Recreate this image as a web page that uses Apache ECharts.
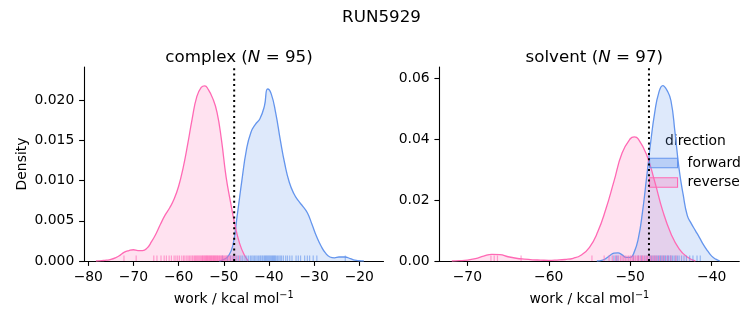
<!DOCTYPE html>
<html><head><meta charset="utf-8">
<script src="https://cdn.jsdelivr.net/npm/echarts@6/dist/echarts.min.js"></script>
<style>html,body{margin:0;padding:0;background:#fff}#c{width:753px;height:325px}</style>
</head><body><div id="c"></div>
<script>
// ---- data ----
const suptitle = 'RUN5929';
const panelNames = ['complex', 'solvent'];
const panelN = [95, 97];
const hueNames = ['forward', 'reverse'];
const dgLine = [-47.7, -47.7];

const complexXTicks = [-80, -70, -60, -50, -40, -30, -20];
const complexYTicks = [0, 0.005, 0.010, 0.015, 0.020];
const solventXTicks = [-70, -60, -50, -40];
const solventYTicks = [0, 0.02, 0.04, 0.06];

// KDE curves (work, density)
const complexFwdWork    = [-51, -50, -49, -48, -47, -46, -45, -44, -43, -42, -41, -40.3, -39.5, -38.5, -37.5, -36.5, -35.5, -34.5, -33.5, -32.5, -31.5, -30.5, -29.5, -28.5, -27.5, -26.5, -25.5, -24.5, -23.2, -22, -21, -20, -19];
const complexFwdDensity = [0, 0.0002, 0.0006, 0.0019, 0.0058, 0.0100, 0.0138, 0.0160, 0.0170, 0.0177, 0.0193, 0.0214, 0.0208, 0.0184, 0.0151, 0.0121, 0.0098, 0.0084, 0.0075, 0.0068, 0.0060, 0.0046, 0.0031, 0.0019, 0.0010, 0.0005, 0.0004, 0.0005, 0.0005, 0.0003, 0.0001, 0.00003, 0];
const complexRevWork    = [-78.3, -77, -76, -75, -74, -73, -72, -71, -70, -69, -68, -67, -66, -65, -64, -63, -62, -61, -60, -59, -58, -57, -56, -55, -54.2, -53.5, -52.5, -51.5, -50.5, -49.5, -48.5, -47.5, -46.5, -45.5, -44.6];
const complexRevDensity = [0, 0.00005, 0.0001, 0.0002, 0.0004, 0.0007, 0.0011, 0.0013, 0.0014, 0.0013, 0.0013, 0.0016, 0.0024, 0.0034, 0.0046, 0.0057, 0.0066, 0.0077, 0.0093, 0.0116, 0.0145, 0.0177, 0.0204, 0.0216, 0.0218, 0.0214, 0.0203, 0.0185, 0.0150, 0.0105, 0.0073, 0.0044, 0.0022, 0.0008, 0];
const solventFwdWork    = [-54.1, -53.5, -53, -52.5, -52, -51.5, -51, -50.5, -50, -49.5, -49, -48.5, -48, -47.5, -47, -46.5, -46, -45.5, -45, -44.5, -44, -43.5, -43, -42.5, -42, -41.5, -41, -40.5, -40, -39.5, -39];
const solventFwdDensity = [0, 0.0002, 0.0008, 0.0018, 0.0026, 0.0027, 0.0020, 0.0012, 0.0012, 0.0030, 0.0075, 0.0160, 0.0272, 0.0388, 0.0487, 0.0553, 0.0577, 0.0562, 0.0527, 0.0422, 0.0302, 0.0218, 0.0150, 0.0123, 0.0100, 0.0077, 0.0053, 0.0033, 0.0016, 0.0006, 0];
const solventRevWork    = [-71.9, -71, -70, -69, -68, -67, -66, -65, -64, -63, -62, -61, -60, -59, -58, -57, -56, -55, -54, -53, -52, -51, -50, -49.5, -49, -48, -47, -46, -45, -44, -43, -42];
const solventRevDensity = [0, 0.0001, 0.0003, 0.0008, 0.0016, 0.0022, 0.0021, 0.0014, 0.0009, 0.0006, 0.0004, 0.0003, 0.0002, 0.0003, 0.0005, 0.0009, 0.0020, 0.0045, 0.0095, 0.0170, 0.0262, 0.0355, 0.0402, 0.0408, 0.0401, 0.0350, 0.0262, 0.0164, 0.0090, 0.0040, 0.0013, 0];

// rug samples
const complexFwdRug = [-50.3, -49.2, -48.5, -47.9, -47.3, -46.8, -46.2, -45.8, -45.3, -44.9, -44.5, -44.1, -43.8, -43.5, -43.2, -42.9, -42.6, -42.3, -42.0, -41.8, -41.5, -41.3, -41.0, -40.8, -40.6, -40.4, -40.2, -40.0, -39.8, -39.6, -39.4, -39.2, -39.0, -38.8, -38.6, -38.4, -38.1, -37.8, -37.5, -37.2, -36.8, -36.3, -35.9, -35.4, -34.9, -34.0, -33.5, -33.0, -32.1, -31.5, -31.0, -30.2, -29.4, -23.1];
const complexRevRug = [-72.1, -69.4, -65.5, -64.8, -63.9, -63.2, -62.7, -62.1, -61.6, -61.0, -60.6, -60.2, -59.8, -59.3, -58.9, -58.6, -58.2, -57.9, -57.6, -57.3, -57.0, -56.8, -56.5, -56.3, -56.1, -55.9, -55.7, -55.5, -55.3, -55.1, -54.9, -54.7, -54.6, -54.4, -54.2, -54.1, -53.9, -53.8, -53.6, -53.5, -53.3, -53.2, -53.0, -52.9, -52.7, -52.6, -52.4, -52.3, -52.1, -52.0, -51.8, -51.7, -51.5, -51.4, -51.2, -51.0, -50.9, -50.7, -50.5, -50.3, -50.1, -49.9, -49.7, -49.5, -49.3, -49.0, -48.7, -48.4, -48.0, -47.6, -47.1, -46.5];
const solventFwdRug = [-52.0, -51.7, -51.5, -49.6, -49.0, -48.6, -48.2, -47.9, -47.6, -47.4, -47.2, -47.0, -46.8, -46.6, -46.5, -46.3, -46.2, -46.0, -45.9, -45.7, -45.6, -45.4, -45.3, -45.1, -45.0, -44.8, -44.6, -44.4, -44.2, -44.0, -43.7, -43.4, -43.1, -42.7, -42.3, -41.8, -41.4];
const solventRevRug = [-67.1, -66.7, -66.3, -63.4, -54.7, -53.2, -52.6, -52.2, -51.8, -51.5, -51.2, -51.0, -50.8, -50.6, -50.4, -50.2, -50.0, -49.9, -49.7, -49.6, -49.4, -49.3, -49.1, -49.0, -48.8, -48.7, -48.5, -48.4, -48.2, -48.0, -47.9, -47.7, -47.5, -47.3, -47.1, -46.9, -46.7, -46.4, -46.1, -45.8, -45.4, -45.0, -44.4];

// ---- styling ----
const FONT = 'DejaVu Sans';
const FS = 13.9;
const C = {forward: '#6495ED', reverse: '#FF69B4'};
const fill = {forward: 'rgba(100,149,237,0.3)', reverse: 'rgba(255,105,180,0.28)'};
const rugC = {forward: 'rgba(100,149,237,0.75)', reverse: 'rgba(255,105,180,0.75)'};
const minus = v => (v < 0 ? '\u2212' : '') + Math.abs(v);

const zip = (a, b) => a.map((v, i) => [v, b[i]]);

const xRanges = [[-80.95, -14.64], [-73.44, -36.61]];
const yMax = [0.02414, 0.0638];

function xAxisFor(i, ticks) {
  return {
    type: 'value', gridIndex: i, min: xRanges[i][0], max: xRanges[i][1],
    splitLine: {show: false},
    axisLine: {show: true, onZero: false, lineStyle: {color: '#000', width: 1.1}},
    axisTick: {show: true, length: 4.9, customValues: ticks, lineStyle: {color: '#000', width: 1.1}},
    axisLabel: {customValues: ticks, margin: 9.7, color: '#000', fontFamily: FONT, fontSize: FS, formatter: minus},
    name: '{a|work / kcal mol}{s|\u22121}', nameLocation: 'middle', nameGap: 29,
    nameTextStyle: {rich: {
      a: {fontFamily: FONT, fontSize: FS, color: '#000', lineHeight: 18},
      s: {fontFamily: FONT, fontSize: 9.7, color: '#000', lineHeight: 10, padding: [0, 0, 8, 0]}
    }}
  };
}
function yAxisFor(i, ticks, dec, name) {
  return {
    type: 'value', gridIndex: i, min: 0, max: yMax[i],
    splitLine: {show: false},
    axisLine: {show: true, lineStyle: {color: '#000', width: 1.1}},
    axisTick: {show: true, length: 4.9, customValues: ticks, lineStyle: {color: '#000', width: 1.1}},
    axisLabel: {customValues: ticks, margin: 9.7, color: '#000', fontFamily: FONT, fontSize: FS, formatter: v => v.toFixed(dec)},
    name: name, nameLocation: 'middle', nameGap: 55,
    nameTextStyle: {fontFamily: FONT, fontSize: FS, color: '#000'}
  };
}

function kde(i, hue, work, dens) {
  return {
    type: 'line', name: hue, xAxisIndex: i, yAxisIndex: i,
    data: zip(work, dens), smooth: 0.5, symbol: 'none',
    lineStyle: {color: C[hue], width: 1.3}, itemStyle: {color: C[hue]},
    areaStyle: {color: fill[hue], origin: 'start'}, z: 2, silent: true
  };
}
function rug(i, hue, vals) {
  return {
    type: 'scatter', name: hue, xAxisIndex: i, yAxisIndex: i,
    data: vals.map(v => [v, 0]), symbol: 'rect', symbolSize: [1.2, 5.5], symbolOffset: [0, -2.75],
    itemStyle: {color: rugC[hue]}, z: 3, silent: true, clip: false
  };
}
function vline(i) {
  return {
    type: 'line', name: 'dg' + i, xAxisIndex: i, yAxisIndex: i,
    data: [[dgLine[i], 0], [dgLine[i], yMax[i]]], symbol: 'none',
    lineStyle: {color: '#000', width: 2, type: [2, 3.3]}, z: 5, silent: true
  };
}

function titleText(name, n) { return '{a|' + name + ' (}{i|N}{a| = ' + n + ')}'; }
const titleRich = {
  a: {fontFamily: FONT, fontSize: 16.7, color: '#000', fontWeight: 'normal'},
  i: {fontFamily: FONT, fontSize: 16.7, color: '#000', fontStyle: 'italic', fontWeight: 'normal'}
};

const chart = echarts.init(document.getElementById('c'), null, {renderer: 'canvas'});
chart.setOption({
  animation: false,
  backgroundColor: '#fff',
  title: [
    {text: suptitle, left: 376.5, top: 4, textAlign: 'center', textStyle: {fontFamily: FONT, fontSize: 16.7, fontWeight: 'normal', color: '#000'}},
    {text: titleText(panelNames[0], panelN[0]), left: 234, top: 44, textAlign: 'center', textStyle: {fontWeight: 'normal', rich: titleRich}},
    {text: titleText(panelNames[1], panelN[1]), left: 589.3, top: 44, textAlign: 'center', textStyle: {fontWeight: 'normal', rich: titleRich}}
  ],
  grid: [
    {left: 84, width: 299.5, top: 67, height: 194},
    {left: 439.3, width: 300, top: 67, height: 194}
  ],
  xAxis: [xAxisFor(0, complexXTicks), xAxisFor(1, solventXTicks)],
  yAxis: [yAxisFor(0, complexYTicks, 3, 'Density'), yAxisFor(1, solventYTicks, 2, '')],
  legend: {
    orient: 'vertical', left: 649, top: 156, padding: 0, itemWidth: 28, itemHeight: 9.5, itemGap: 5.5,
    selectedMode: false,
    textStyle: {fontFamily: FONT, fontSize: FS, color: '#000', padding: [0, 0, 0, 5]},
    data: hueNames.map(h => ({name: h, icon: 'rect', itemStyle: {color: fill[h], borderColor: C[h], borderWidth: 1.1}, lineStyle: {opacity: 0}}))
  },
  graphic: [{
    type: 'text', left: 665, top: 134,
    style: {text: 'direction', font: FS + 'px "' + FONT + '"', fill: '#000'}
  }],
  series: [
    kde(0, 'forward', complexFwdWork, complexFwdDensity),
    kde(0, 'reverse', complexRevWork, complexRevDensity),
    rug(0, 'forward', complexFwdRug),
    rug(0, 'reverse', complexRevRug),
    vline(0),
    kde(1, 'forward', solventFwdWork, solventFwdDensity),
    kde(1, 'reverse', solventRevWork, solventRevDensity),
    rug(1, 'forward', solventFwdRug),
    rug(1, 'reverse', solventRevRug),
    vline(1)
  ]
});
</script></body></html>
